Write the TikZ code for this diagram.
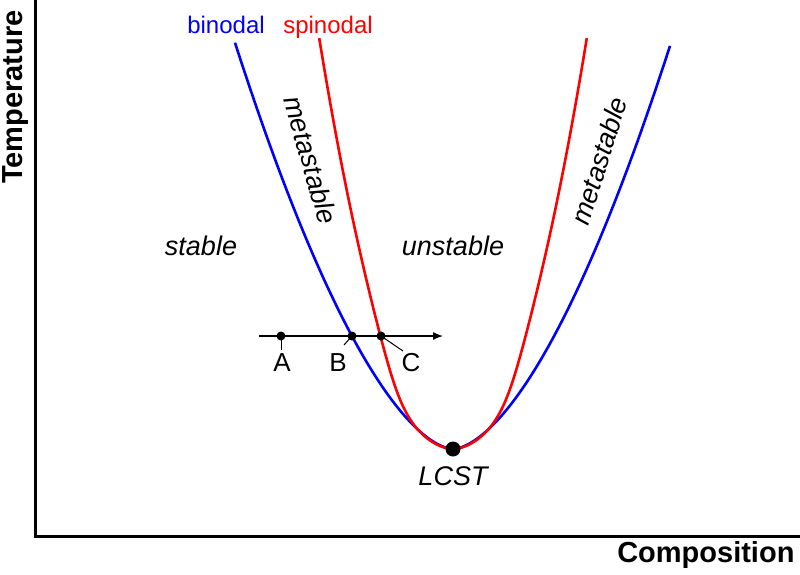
\documentclass[tikz,border=0pt]{standalone}
\usepackage{fontspec}
\setmainfont{Liberation Sans}
\usetikzlibrary{arrows.meta}

\begin{document}
\begin{tikzpicture}[x=1pt,y=-1pt]
        \tikzstyle{axis}=[line width=3pt]
        \tikzstyle{curve}=[line width=2.6pt, smooth, samples=150]
        \tikzstyle{dot}=[circle, fill=black, inner sep=0pt, minimum size=9pt]
        \tikzstyle{region}=[font=\fontsize{27}{32}\selectfont\itshape]
        \tikzstyle{ptlab}=[font=\fontsize{26}{30}\selectfont, anchor=base]
        \useasboundingbox (0,0) rectangle (800,574);
        \draw[axis] (35,0) -- (35,536) -- (800,536);
        \node[rotate=90, font=\fontsize{29}{34}\selectfont\bfseries] (templab) at (16,97) {Temperature};
        \node[anchor=base east, font=\fontsize{29}{34}\selectfont\bfseries] (complab) at (798,562) {Composition};
        \draw[curve, blue, domain=-218:217] plot ({453+\x}, {449-((abs(\x)+0.001)/5.91)^1.665});
        \draw[curve, red, domain=-20.27:20.27] plot ({453+6.6*\x+0.544*\x*abs(\x)*exp(-\x*\x/35)}, {449-\x*\x});
        \node[anchor=base, text=blue, font=\fontsize{24}{28}\selectfont] (binlab) at (226,33) {binodal};
        \node[anchor=base, text=red, font=\fontsize{24}{28}\selectfont] (spinlab) at (328,33) {spinodal};
        \node[region, anchor=base] (stable) at (201,255) {stable};
        \node[region, anchor=base] (unstable) at (453,255) {unstable};
        \node[region, rotate=-74] (metaL) at (311,160) {metastable};
        \node[region, rotate=73] (metaR) at (599,161) {metastable};
        \coordinate (arrS) at (259,336);
        \coordinate (arrE) at (443,336);
        \draw[line width=1.3pt, -{Latex[length=10pt,width=8pt]}] (arrS) -- (arrE);
        \node[dot] (A) at (281,336) {};
        \node[dot] (B) at (352,336) {};
        \node[dot] (C) at (381,336) {};
        \coordinate (Aend) at (281,350);
        \coordinate (Bend) at (344,345);
        \coordinate (Cend) at (403,351);
        \draw[line width=1pt] (A.center) -- (Aend);
        \draw[line width=1pt] (B.center) -- (Bend);
        \draw[line width=1pt] (C.center) -- (Cend);
        \node[ptlab] (Alab) at (282,371) {A};
        \node[ptlab] (Blab) at (338,371) {B};
        \node[ptlab] (Clab) at (411,371) {C};
        \node[dot, minimum size=15pt] (lcst) at (453,449) {};
        \node[region, anchor=base] (lcstlab) at (453,485) {LCST};
    \end{tikzpicture}
\end{document}
